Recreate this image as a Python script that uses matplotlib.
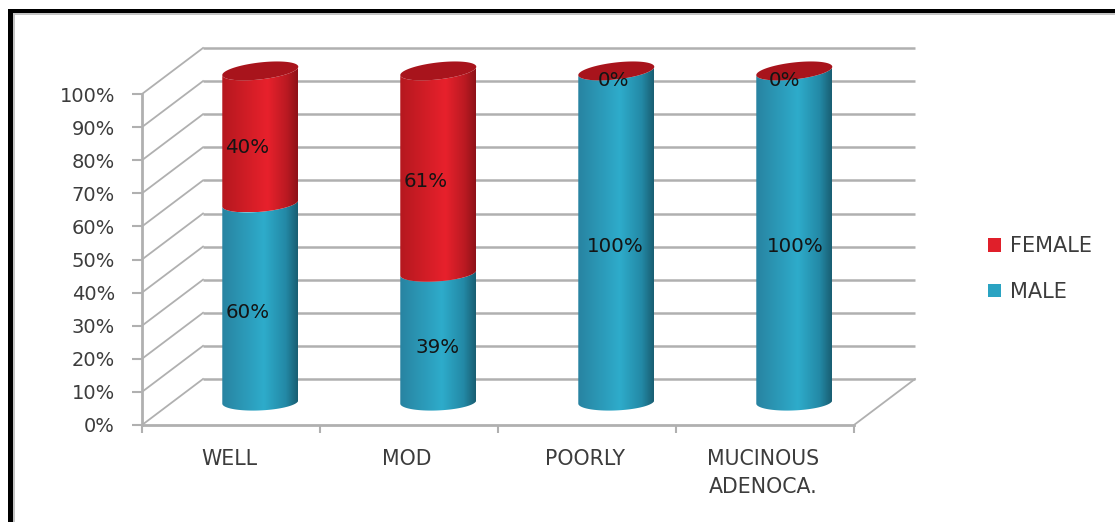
import numpy as np
import matplotlib
matplotlib.use("Agg")
import matplotlib.pyplot as plt
from matplotlib.colors import LinearSegmentedColormap
from matplotlib.patches import Patch, Polygon, Rectangle

categories = ["WELL", "MOD", "POORLY", "MUCINOUS\nADENOCA."]
male = [60, 39, 100, 100]
female = [40, 61, 0, 0]
yticks = list(range(0, 101, 10))

# horizontal nudges (px) that keep the value labels where they sit on the cylinders
male_nudge = [-13, -1, -1, 1]
female_nudge = [-13, -13, -3, -10]

W, H = 1115, 522
fig = plt.figure(figsize=(W / 100, H / 100), dpi=100, facecolor="white")
plt.rcParams["font.family"] = "DejaVu Sans"
L, R, B, T = 142, 854, 425, 94
ax = fig.add_axes([L / W, (H - B) / H, (R - L) / W, (B - T) / H])
ax.set_xlim(0, 4)
ax.set_ylim(0, 100)
ax.patch.set_alpha(0)

# scale factors between pixels and data units
px_x = 4 / (R - L)
px_y = 100 / (B - T)
depth_x, depth_y = 61 * px_x, 46 * px_y

GRID = "#b0b0b0"
TXT = "#3c3c3c"

# frame around the whole graphic
for rect, col in [((8, 0, 5, H - 9), "black"), ((8, H - 13, W - 8, 4), "black"),
                  ((13, 0, 2, H - 13), "#c4c4c4"), ((13, H - 15, W - 13, 2), "#c4c4c4")]:
    fig.add_artist(Rectangle((rect[0] / W, rect[1] / H), rect[2] / W, rect[3] / H,
                             transform=fig.transFigure, color=col, lw=0))

# back wall and side gridlines
for v in yticks:
    ax.plot([depth_x, 4 + depth_x], [v + depth_y] * 2, color=GRID, lw=1.8,
            clip_on=False, zorder=1, solid_capstyle="butt")
    ax.plot([0, depth_x], [v, v + depth_y], color=GRID, lw=1.3, clip_on=False, zorder=1)
ax.plot([4, 4 + depth_x], [0, depth_y], color=GRID, lw=1.3, clip_on=False, zorder=1)

# front axes
for s in ["top", "right"]:
    ax.spines[s].set_visible(False)
for s in ["left", "bottom"]:
    ax.spines[s].set_color(GRID)
    ax.spines[s].set_linewidth(2.0)
ax.set_yticks(yticks)
ax.set_yticklabels([f"{v}%" for v in yticks], fontsize=14, color=TXT)
ax.set_xticks(range(5))
ax.set_xticklabels([])
ax.set_xticks(np.arange(4) + 0.49, minor=True)
ax.set_xticklabels(categories, minor=True, fontsize=14.8, color=TXT, linespacing=1.5)
ax.tick_params(axis="y", length=7, width=1.5, color=GRID, pad=12.5)
ax.tick_params(axis="x", which="major", length=6, width=1.5, color=GRID)
ax.tick_params(axis="x", which="minor", length=0, pad=17)

teal = LinearSegmentedColormap.from_list(
    "teal", [(0, "#2883a1"), (0.55, "#2eaccb"), (0.84, "#2389a6"), (1, "#195e72")])
red = LinearSegmentedColormap.from_list(
    "red", [(0, "#b5181f"), (0.6, "#e8212c"), (0.85, "#bb1a22"), (1, "#8e1218")])
CAP = "#a8141c"

half_w = 38 * px_x
minor = 8.5 * px_y
center_depth = 0.48
grad = np.linspace(0, 1, 256)[None, :]


def rim(xc, v, t):
    """Tilted ellipse rim of a cylinder at value v."""
    tilt = (1.5 + 2.5 * v / 100) * px_y
    return xc + half_w * np.cos(t), v + 1 * px_y + minor * np.sin(t) + tilt * np.cos(t)


def segment(xc, v0, v1, cmap):
    t = np.linspace(np.pi, 2 * np.pi, 60)
    xa, ya = rim(xc, v0 + center_depth * depth_y, t)
    xb, yb = rim(xc, v1 + center_depth * depth_y, t[::-1])
    poly = Polygon(np.c_[np.r_[xa, xb], np.r_[ya, yb]], closed=True, transform=ax.transData,
                   fc="none", ec="none")
    ax.add_patch(poly)
    im = ax.imshow(grad, cmap=cmap, aspect="auto", zorder=3,
                   extent=[xc - half_w, xc + half_w, min(ya.min(), yb.min()), max(ya.max(), yb.max())])
    im.set_clip_box(fig.bbox)
    im.set_clip_path(poly)


for i, (m, f) in enumerate(zip(male, female)):
    xc = i + 0.5 + center_depth * depth_x
    segment(xc, 0, m, teal)
    if f > 0:
        segment(xc, m, m + f, red)
    t = np.linspace(0, 2 * np.pi, 120)
    xt, yt = rim(xc, m + f + center_depth * depth_y, t)
    ax.fill(xt, yt, color=CAP, lw=0, zorder=4, clip_on=False)
    # value labels sit 9 px under the middle of each segment
    for mid, val, nudge in [(m / 2, m, male_nudge[i]), (m + f / 2, f, female_nudge[i])]:
        ax.text(xc + nudge * px_x, mid + center_depth * depth_y - 9 * px_y, f"{val}%",
                ha="center", va="center", fontsize=14.3, color="#141414", zorder=5, clip_on=False)

ax.set_xlim(0, 4)
ax.set_ylim(0, 100)

handles = [Patch(color="#e01f2a", lw=0), Patch(color="#2aa3c2", lw=0)]
fig.legend(handles, ["FEMALE", "MALE"], loc="upper left",
           bbox_to_anchor=(982 / W, (H - 230) / H), frameon=False, fontsize=15,
           labelcolor=TXT, handlelength=0.62, handleheight=0.62, handletextpad=0.42,
           labelspacing=1.22, borderpad=0.3, borderaxespad=0)

fig.savefig("out.png", dpi=100, facecolor="white")
